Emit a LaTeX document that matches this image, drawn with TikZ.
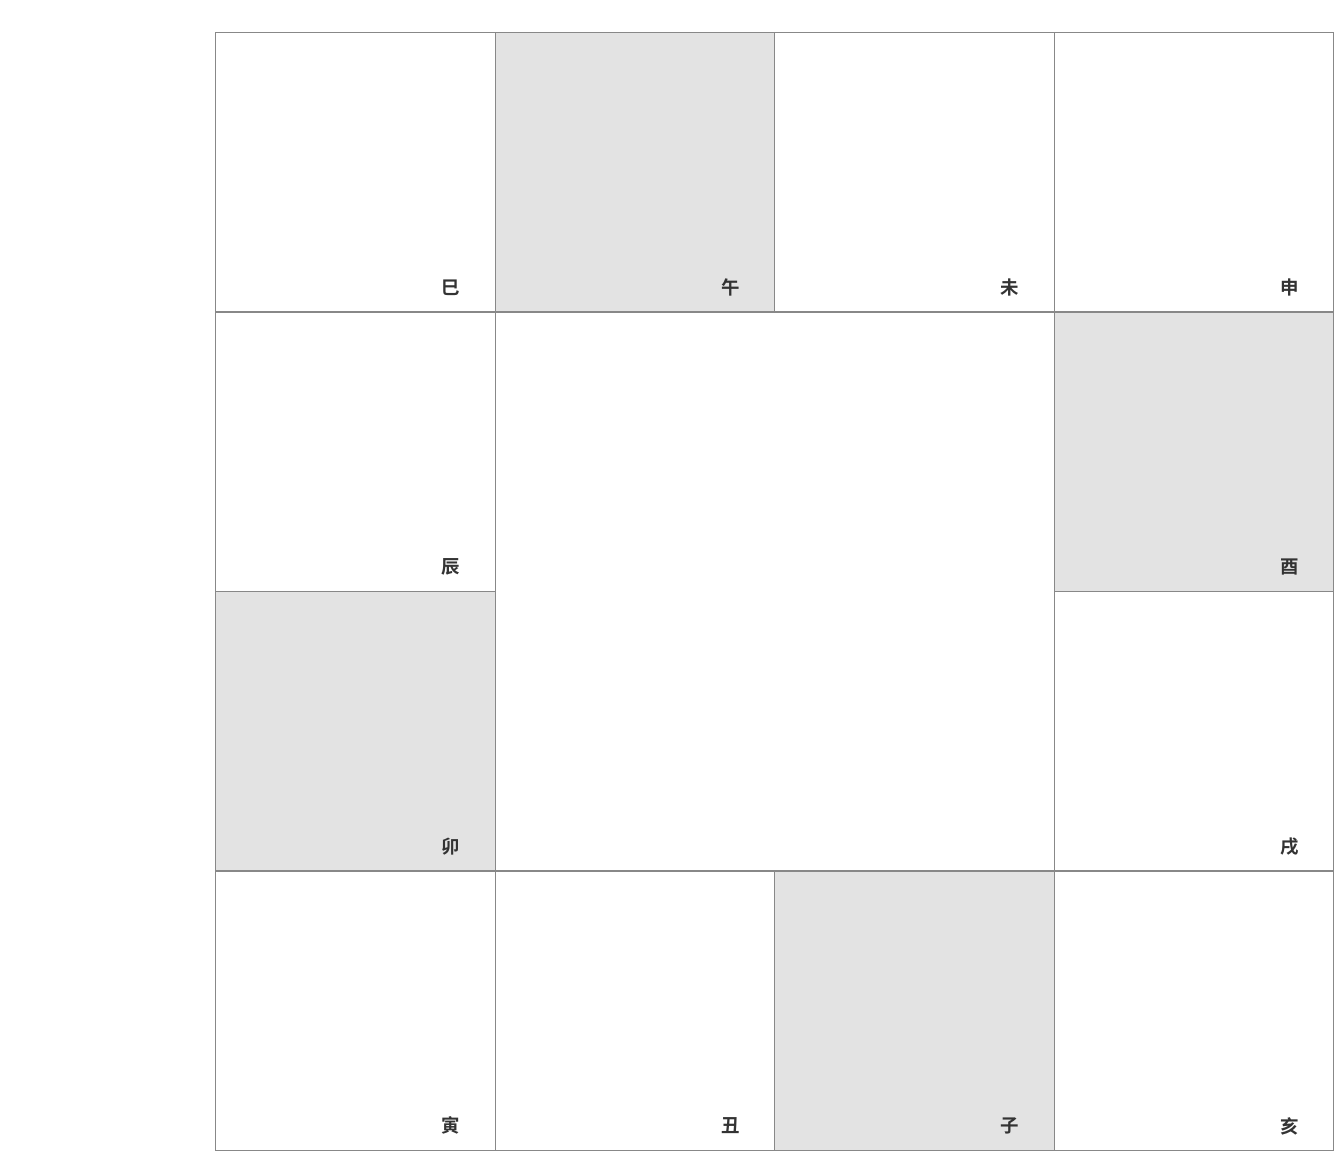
\documentclass[tikz,border=0pt]{standalone}
\usepackage{fontspec}
\newfontfamily\cjk{Noto Sans CJK SC Bold}
\definecolor{cellgray}{HTML}{E3E3E3}
\definecolor{lineg}{HTML}{888888}
\definecolor{textg}{HTML}{333333}
\begin{document}
\begin{tikzpicture}[cell/.style={draw=lineg,line width=0.8pt,rectangle,minimum size=5.59cm,inner sep=0pt,anchor=north west},
  branch/.style={text=textg,font=\cjk\fontsize{10.5}{12}\selectfont,inner sep=0pt}]
\useasboundingbox (0,0) rectangle (26.7,23.04);
\foreach \n/\i/\j/\f in {si/0/0/white,wu/1/0/cellgray,wei/2/0/white,shen/3/0/white,
  chen/0/1/white,you/3/1/cellgray,mao/0/2/cellgray,xu/3/2/white,
  yin/0/3/white,chou/1/3/white,zi/2/3/cellgray,hai/3/3/white}{
  \node[cell,fill=\f] (\n) at (4.3+5.59*\i,22.4-5.59*\j) {};}
\node[draw=lineg,line width=0.8pt,anchor=north west,minimum width=11.18cm,minimum height=11.18cm,inner sep=0pt] (mid) at (9.89,16.81) {};
\foreach \n/\t in {si/巳,wu/午,wei/未,shen/申,chen/辰,you/酉,mao/卯,xu/戌,yin/寅,chou/丑,zi/子,hai/亥}{
  \node[branch] (\n-l) at ([shift={(-0.9,0.51)}]\n.south east) {\t};}
\end{tikzpicture}
\end{document}
